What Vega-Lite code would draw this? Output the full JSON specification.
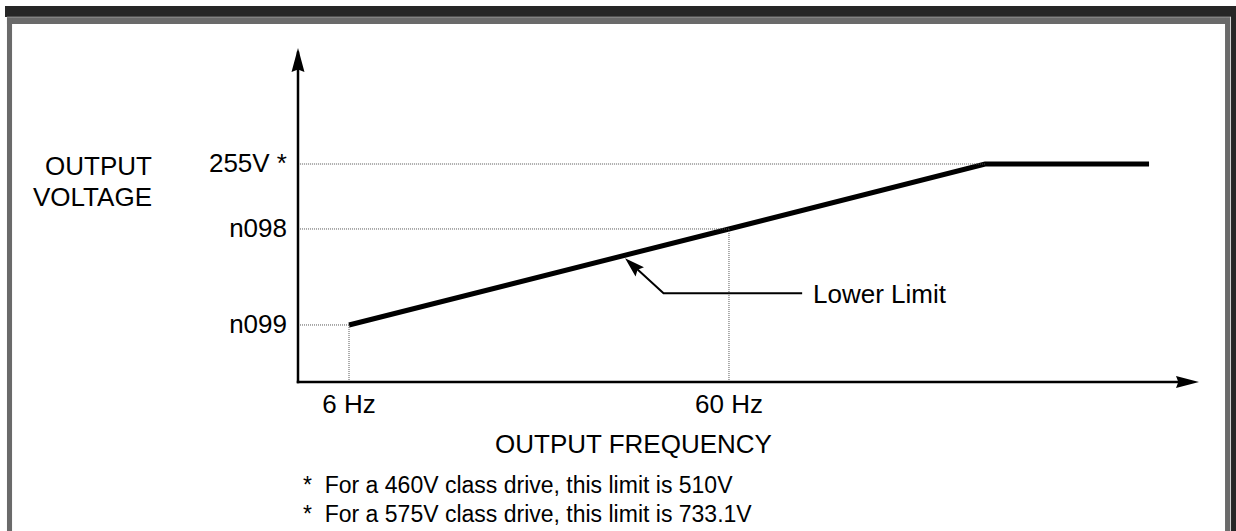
{
  "$schema": "https://vega.github.io/schema/vega-lite/v6.json",
  "width": 901,
  "height": 334,
  "autosize": "none",
  "padding": {"left": 298, "top": 48, "right": 37, "bottom": 149},
  "background": "white",
  "config": {
    "view": {"stroke": null},
    "font": "Liberation Sans",
    "text": {"font": "Liberation Sans", "fontSize": 26, "color": "black"}
  },
  "datasets": {
    "levels": [
      {"freq": 6, "voltage": 66.7, "level": "n099", "freqLabel": "6 Hz"},
      {"freq": 60, "voltage": 179, "level": "n098", "freqLabel": "60 Hz"},
      {"freq": 96.4, "voltage": 255, "level": "255V *", "freqLabel": ""}
    ],
    "curve": [
      {"freq": 6, "voltage": 66.7},
      {"freq": 60, "voltage": 179},
      {"freq": 96.4, "voltage": 255},
      {"freq": 119.7, "voltage": 255}
    ],
    "callout": [
      {"freq": 70.4, "voltage": 103.8, "order": 1},
      {"freq": 50.7, "voltage": 103.8, "order": 2},
      {"freq": 45.85, "voltage": 140.25, "order": 3}
    ]
  },
  "layer": [
    {
      "data": {"name": "curve"},
      "mark": {"type": "line", "color": "black", "strokeWidth": 5, "strokeCap": "butt", "strokeJoin": "miter"},
      "encoding": {
        "x": {"field": "freq", "type": "quantitative", "scale": {"domain": [-1.25, 126.8], "nice": false, "zero": false}, "axis": null},
        "y": {"field": "voltage", "type": "quantitative", "scale": {"domain": [0, 390.7], "nice": false, "zero": false}, "axis": null}
      }
    },
    {
      "data": {"values": [{"id": 1}]},
      "mark": {"type": "rect", "color": "#262626"},
      "encoding": {"x": {"datum": -42.89, "type": "quantitative", "axis": null}, "x2": {"datum": 132.06}, "y": {"datum": 439.83, "type": "quantitative", "axis": null}, "y2": {"datum": 426.96}}
    },
    {
      "data": {"values": [{"id": 1}]},
      "mark": {"type": "rect", "color": "#262626"},
      "encoding": {"x": {"datum": 131.35, "type": "quantitative", "axis": null}, "x2": {"datum": 132.06}, "y": {"datum": 439.83, "type": "quantitative", "axis": null}, "y2": {"datum": -174.29}}
    },
    {
      "data": {"values": [{"id": 1}]},
      "mark": {"type": "rect", "color": "#6a6a6a"},
      "encoding": {"x": {"datum": -42.61, "type": "quantitative", "axis": null}, "x2": {"datum": 131.21}, "y": {"datum": 426.96, "type": "quantitative", "axis": null}, "y2": {"datum": 418.77}}
    },
    {
      "data": {"values": [{"id": 1}]},
      "mark": {"type": "rect", "color": "#6a6a6a"},
      "encoding": {"x": {"datum": -42.61, "type": "quantitative", "axis": null}, "x2": {"datum": -41.89}, "y": {"datum": 426.96, "type": "quantitative", "axis": null}, "y2": {"datum": -174.29}}
    },
    {
      "data": {"values": [{"id": 1}]},
      "mark": {"type": "rect", "color": "#6a6a6a"},
      "encoding": {"x": {"datum": 130.5, "type": "quantitative", "axis": null}, "x2": {"datum": 131.21}, "y": {"datum": 426.96, "type": "quantitative", "axis": null}, "y2": {"datum": -174.29}}
    },
    {
      "data": {"values": [{"id": 1}]},
      "mark": {"type": "rect", "color": "#cfcfcf"},
      "encoding": {"x": {"datum": -42.61, "type": "quantitative", "axis": null}, "x2": {"datum": 131.28}, "y": {"datum": 427.4, "type": "quantitative", "axis": null}, "y2": {"datum": 426.6}}
    },
    {
      "data": {"values": [{"id": 1}]},
      "mark": {"type": "rect", "color": "#cfcfcf"},
      "encoding": {"x": {"datum": 131.21, "type": "quantitative", "axis": null}, "x2": {"datum": 131.35}, "y": {"datum": 427.4, "type": "quantitative", "axis": null}, "y2": {"datum": -174.29}}
    },
    {
      "data": {"name": "levels"},
      "mark": {"type": "rule", "color": "#555555", "strokeWidth": 1, "strokeDash": [1, 1]},
      "encoding": {
        "x": {"field": "freq", "type": "quantitative", "axis": null},
        "x2": {"datum": -1.25},
        "y": {"field": "voltage", "type": "quantitative", "axis": null}
      }
    },
    {
      "data": {"name": "levels"},
      "transform": [{"filter": "datum.freqLabel != ''"}],
      "mark": {"type": "rule", "color": "#555555", "strokeWidth": 1, "strokeDash": [1, 1]},
      "encoding": {
        "x": {"field": "freq", "type": "quantitative", "axis": null},
        "y": {"field": "voltage", "type": "quantitative", "axis": null},
        "y2": {"datum": 0}
      }
    },
    {
      "data": {"values": [{"id": 1}]},
      "mark": {"type": "rule", "color": "black", "strokeWidth": 2.5, "strokeCap": "square"},
      "encoding": {"x": {"datum": -1.25, "type": "quantitative", "axis": null}, "y": {"datum": 0, "type": "quantitative", "axis": null}, "y2": {"datum": 385.0}}
    },
    {
      "data": {"values": [{"id": 1}]},
      "mark": {"type": "rule", "color": "black", "strokeWidth": 2.5, "strokeCap": "square"},
      "encoding": {"x": {"datum": -1.25, "type": "quantitative", "axis": null}, "x2": {"datum": 124.0}, "y": {"datum": 0, "type": "quantitative", "axis": null}}
    },
    {
      "data": {"name": "callout"},
      "mark": {"type": "line", "color": "black", "strokeWidth": 2},
      "encoding": {
        "x": {"field": "freq", "type": "quantitative", "axis": null},
        "y": {"field": "voltage", "type": "quantitative", "axis": null},
        "order": {"field": "order", "type": "quantitative"}
      }
    },
    {
      "data": {"values": [{"id": 1}]},
      "mark": {"type": "point", "shape": "M0,0L-0.54,2L0,1.8L0.54,2Z", "size": 576, "filled": true, "color": "black", "opacity": 1, "strokeWidth": 0},
      "encoding": {"x": {"datum": -1.25, "type": "quantitative", "axis": null}, "y": {"datum": 390.7, "type": "quantitative", "axis": null}}
    },
    {
      "data": {"values": [{"id": 1}]},
      "mark": {"type": "point", "shape": "M0,0L-2,-0.52L-1.8,0L-2,0.52Z", "size": 529, "filled": true, "color": "black", "opacity": 1, "strokeWidth": 0},
      "encoding": {"x": {"datum": 126.8, "type": "quantitative", "axis": null}, "y": {"datum": 0, "type": "quantitative", "axis": null}}
    },
    {
      "data": {"values": [{"id": 1}]},
      "mark": {"type": "point", "shape": "M0,0L-0.62,2L0,1.7L0.62,2Z", "size": 400, "angle": 312.6, "filled": true, "color": "black", "opacity": 1, "strokeWidth": 0},
      "encoding": {"x": {"datum": 45.23, "type": "quantitative", "axis": null}, "y": {"datum": 144.7, "type": "quantitative", "axis": null}}
    },
    {
      "data": {"name": "levels"},
      "mark": {"type": "text", "align": "right", "baseline": "middle", "dx": -11},
      "encoding": {
        "x": {"datum": -1.25, "type": "quantitative", "axis": null},
        "y": {"field": "voltage", "type": "quantitative", "axis": null},
        "text": {"field": "level", "type": "nominal"}
      }
    },
    {
      "data": {"name": "levels"},
      "transform": [{"filter": "datum.freqLabel != ''"}],
      "mark": {"type": "text", "align": "center", "baseline": "top", "dy": 9.5},
      "encoding": {
        "x": {"field": "freq", "type": "quantitative", "axis": null},
        "y": {"datum": 0, "type": "quantitative", "axis": null},
        "text": {"field": "freqLabel", "type": "nominal"}
      }
    },
    {
      "data": {"values": [{"id": 1}]},
      "mark": {"type": "text", "align": "right", "baseline": "alphabetic", "lineHeight": 31, "text": ["OUTPUT", "VOLTAGE"]},
      "encoding": {"x": {"datum": -22.0, "type": "quantitative", "axis": null}, "y": {"datum": 242.14, "type": "quantitative", "axis": null}}
    },
    {
      "data": {"values": [{"id": 1}]},
      "mark": {"type": "text", "align": "center", "baseline": "alphabetic", "text": "OUTPUT FREQUENCY"},
      "encoding": {"x": {"datum": 46.43, "type": "quantitative", "axis": null}, "y": {"datum": -83.05, "type": "quantitative", "axis": null}}
    },
    {
      "data": {"values": [{"id": 1}]},
      "mark": {"type": "text", "align": "left", "baseline": "middle", "text": "Lower Limit"},
      "encoding": {"x": {"datum": 71.94, "type": "quantitative", "axis": null}, "y": {"datum": 102.35, "type": "quantitative", "axis": null}}
    },
    {
      "data": {"values": [{"id": 1}]},
      "mark": {"type": "text", "align": "left", "baseline": "alphabetic", "fontSize": 23, "lineHeight": 29, "text": ["*\u00a0\u00a0For a 460V class drive, this limit is 510V", "*\u00a0\u00a0For a 575V class drive, this limit is 733.1V"]},
      "encoding": {"x": {"datum": -0.54, "type": "quantitative", "axis": null}, "y": {"datum": -129.84, "type": "quantitative", "axis": null}}
    }
  ]
}
